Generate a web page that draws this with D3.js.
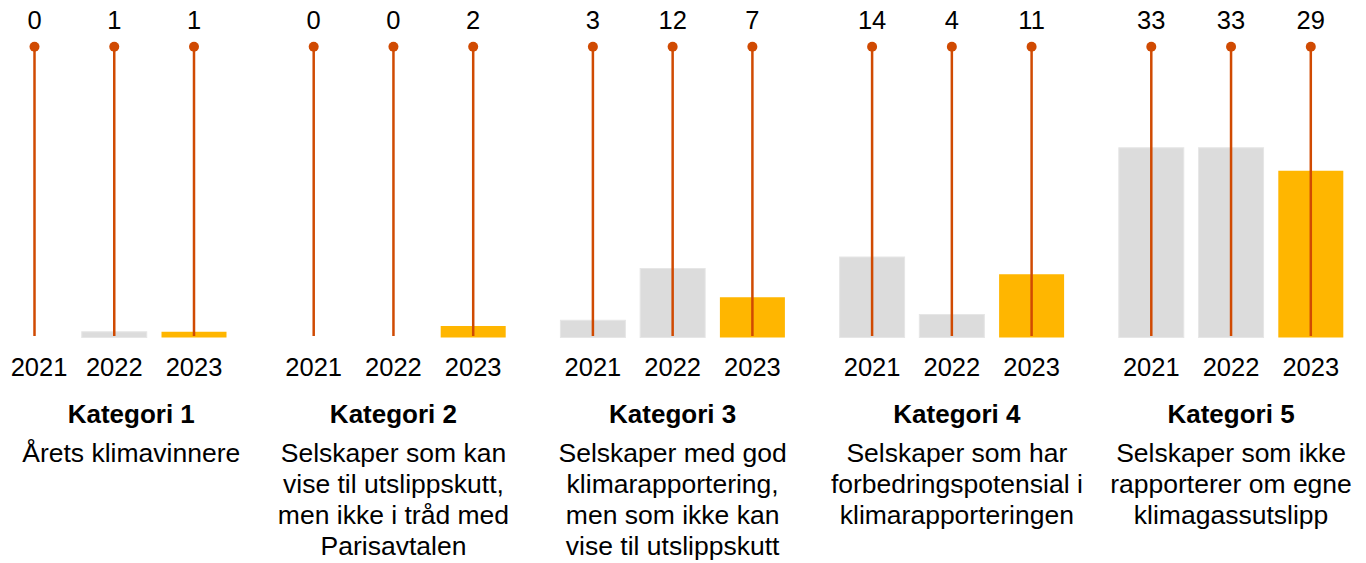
<!DOCTYPE html>
<html>
<head>
<meta charset="utf-8">
<script src="https://cdn.jsdelivr.net/npm/d3@7"></script>
<style>
  html, body { margin: 0; padding: 0; background: #fff; }
  svg { display: block; }
  text { font-family: "Liberation Sans", Arial, sans-serif; fill: #000; }
</style>
</head>
<body>
<svg id="chart" width="1366" height="563"></svg>
<script>
// ---- data ----
const categories = ["Kategori 1", "Kategori 2", "Kategori 3", "Kategori 4", "Kategori 5"];
const years = ["2021", "2022", "2023"];
const values2021 = [0, 0, 3, 14, 33];
const values2022 = [1, 0, 12, 4, 33];
const values2023 = [1, 2, 7, 11, 29];
const descriptions = [
  ["Årets klimavinnere"],
  ["Selskaper som kan", "vise til utslippskutt,", "men ikke i tråd med", "Parisavtalen"],
  ["Selskaper med god", "klimarapportering,", "men som ikke kan", "vise til utslippskutt"],
  ["Selskaper som har", "forbedringspotensial i", "klimarapporteringen"],
  ["Selskaper som ikke", "rapporterer om egne", "klimagassutslipp"]
];

// ---- layout ----
const svg = d3.select("#chart");
const baseline = 337.5;
const stemTop = 46.7;
const barW = 65;
const labelShift = [17, 0, 0, 5, 0];

const gx = d3.scalePoint().domain(categories).range([34.5, 34.5 + 4 * 279.2]);
const ix = d3.scalePoint().domain(years).range([0, 159.5]);
const y = d3.scaleLinear().domain([0, 33]).range([baseline, baseline - 189.75]);

const series = { "2021": values2021, "2022": values2022, "2023": values2023 };
const rows = [];
categories.forEach((c, ci) => {
  years.forEach(yr => rows.push({ cat: c, ci, year: yr, value: series[yr][ci] }));
});
const cx = d => gx(d.cat) + ix(d.year);

// bars
svg.append("g").selectAll("rect").data(rows.filter(d => d.value > 0)).join("rect")
  .attr("x", d => cx(d) - barW / 2)
  .attr("y", d => y(d.value))
  .attr("width", barW)
  .attr("height", d => baseline - y(d.value))
  .attr("fill", d => d.year === "2023" ? "#FFB600" : "#DCDCDC")
  .attr("stroke", d => d.year === "2023" ? "none" : "#E6E6E6")
  .attr("stroke-width", 1);

// stems
svg.append("g").selectAll("line").data(rows).join("line")
  .attr("x1", cx).attr("x2", cx)
  .attr("y1", stemTop).attr("y2", baseline - 1.5)
  .attr("stroke", "#D04A02").attr("stroke-width", 2.5);

// dots
svg.append("g").selectAll("circle").data(rows).join("circle")
  .attr("cx", cx).attr("cy", stemTop).attr("r", 5)
  .attr("fill", "#D04A02");

// value labels
svg.append("g").selectAll("text").data(rows).join("text")
  .attr("x", cx).attr("y", 29)
  .attr("text-anchor", "middle")
  .style("font-size", "25.5px")
  .text(d => d.value);

// year labels
svg.append("g").selectAll("text").data(rows).join("text")
  .attr("x", d => cx(d) + (d.ci === 0 && d.year === "2021" ? 4.5 : 0))
  .attr("y", 376)
  .attr("text-anchor", "middle")
  .style("font-size", "25.5px")
  .text(d => d.year);

// category titles & descriptions
const gCat = svg.append("g").selectAll("g").data(categories).join("g")
  .attr("transform", (c, i) => `translate(${gx(c) + ix("2022") + labelShift[i]},0)`);

gCat.append("text")
  .attr("y", 423)
  .attr("text-anchor", "middle")
  .style("font-size", "26px")
  .style("font-weight", "bold")
  .text(c => c);

gCat.each(function (c, i) {
  d3.select(this).selectAll("text.desc").data(descriptions[i]).join("text")
    .attr("class", "desc")
    .attr("y", (t, k) => 461.5 + k * 31)
    .attr("text-anchor", "middle")
    .style("font-size", "26.5px")
    .text(t => t);
});
</script>
</body>
</html>
